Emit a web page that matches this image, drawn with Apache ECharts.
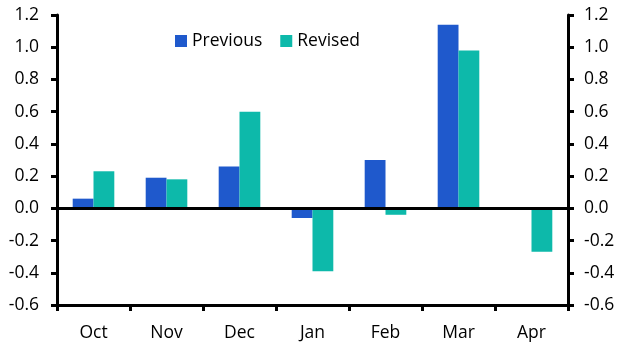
<!DOCTYPE html>
<html>
<head>
<meta charset="utf-8">
<script src="https://cdn.jsdelivr.net/npm/echarts@6/dist/echarts.min.js"></script>
<style>
html,body{margin:0;padding:0;background:#fff;}
#c{width:629px;height:355px;}
</style>
</head>
<body>
<div id="c"></div>
<script>
const categories = ['Oct', 'Nov', 'Dec', 'Jan', 'Feb', 'Mar', 'Apr'];
const previous = [0.06, 0.19, 0.26, -0.06, 0.30, 1.14, null];
const revised = [0.23, 0.18, 0.60, -0.39, -0.04, 0.98, -0.27];
const seriesNames = ['Previous', 'Revised'];

const FONT = 'Open Sans';
const FS = 17.5;
const chart = echarts.init(document.getElementById('c'));
const yAxisBase = {
  type: 'value', min: -0.6, max: 1.2, interval: 0.2,
  splitLine: { show: false },
  axisLine: { show: true, lineStyle: { color: '#000', width: 3 } },
  axisTick: { show: true, length: 6, lineStyle: { color: '#000', width: 3 } },
  axisLabel: { color: '#000', fontFamily: FONT, fontSize: FS, margin: 18,
    formatter: v => v.toFixed(1) }
};
chart.setOption({
  animation: false,
  grid: { left: 57, right: 61, top: 15, bottom: 50 },
  legend: {
    data: seriesNames, left: 170, top: 27, itemWidth: 12, itemHeight: 12,
    itemGap: 18, icon: 'rect',
    textStyle: { color: '#000', fontFamily: FONT, fontSize: FS }
  },
  xAxis: {
    type: 'category', data: categories,
    axisLine: { onZero: false, lineStyle: { color: '#000', width: 3 } },
    axisTick: { show: true, length: 6, lineStyle: { color: '#000', width: 3 } },
    axisLabel: { color: '#000', fontFamily: FONT, fontSize: FS, margin: 19 }
  },
  yAxis: [
    Object.assign({}, yAxisBase, { position: 'left' }),
    Object.assign({}, yAxisBase, { position: 'right', axisLabel: Object.assign({}, yAxisBase.axisLabel, { margin: 16 }) })
  ],
  series: [
    { name: seriesNames[0], type: 'bar', data: previous, barGap: '0%', barCategoryGap: '43%',
      itemStyle: { color: '#1F59CC' },
      markLine: { silent: true, symbol: 'none', label: { show: false },
        lineStyle: { color: '#000', width: 3, type: 'solid' }, data: [{ yAxis: 0 }] } },
    { name: seriesNames[1], type: 'bar', data: revised, barGap: '0%', barCategoryGap: '43%',
      itemStyle: { color: '#0DB9AA' } }
  ]
});
</script>
</body>
</html>
